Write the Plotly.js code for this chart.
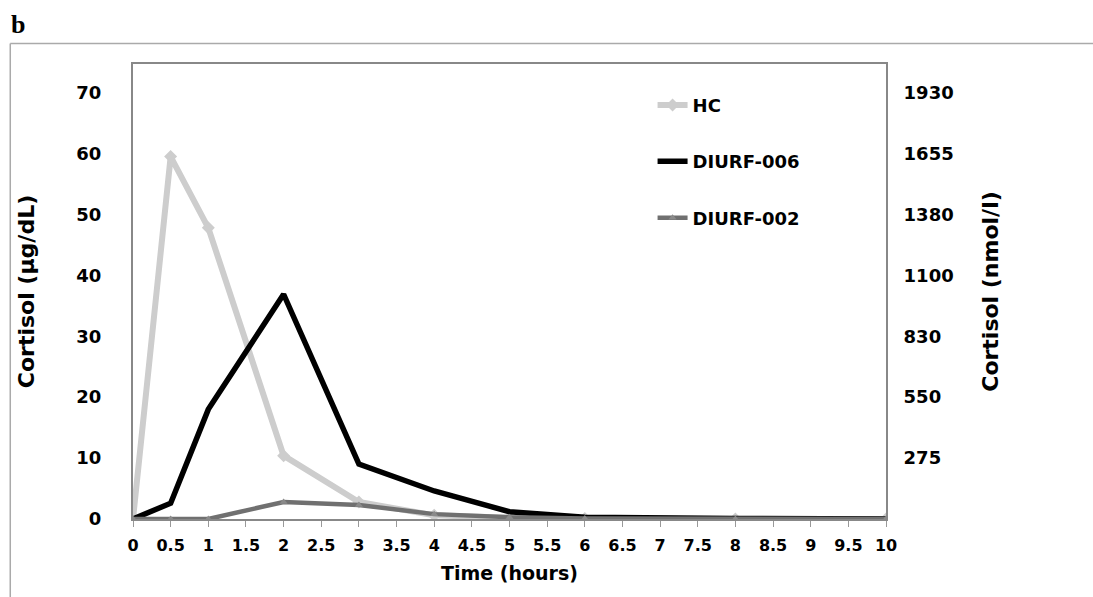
<!DOCTYPE html>
<html><head><meta charset="utf-8">
<script src="https://cdn.plot.ly/plotly-3.0.1.min.js"></script>
<style>html,body{margin:0;padding:0;background:#fff}#c{width:1093px;height:597px}</style>
</head><body><div id="c"></div>
<script>
var time = [0, 0.5, 1, 2, 3, 4, 5, 6, 8, 10];
var hc = [0, 59.5, 47.8, 10.4, 2.8, 0.6, 0.2, 0.1, 0, 0];
var diurf006 = [0, 2.6, 18, 36.9, 9.0, 4.6, 1.2, 0.3, 0.1, 0];
var diurf002 = [0, 0, 0, 2.8, 2.3, 0.8, 0.3, 0.1, 0, 0];
var leftTicks = [0, 10, 20, 30, 40, 50, 60, 70];
var rightTickVals = [10, 20, 30, 40, 50, 60, 70];
var rightTickText = ['275', '550', '830', '1100', '1380', '1655', '1930'];
var xTicks = [0,0.5,1,1.5,2,2.5,3,3.5,4,4.5,5,5.5,6,6.5,7,7.5,8,8.5,9,9.5,10];

var F = 'DejaVu Sans, Verdana, sans-serif';
var traces = [
  {x: time, y: hc, name: 'HC', legendgroup: 'a', mode: 'lines+markers', line: {color: '#cdcdcd', width: 6},
   marker: {symbol: 'diamond', size: 10, color: '#cdcdcd'}},
  {x: time, y: diurf006, name: 'DIURF-006', legendgroup: 'b', mode: 'lines', line: {color: '#000000', width: 5.5}},
  {x: time, y: diurf002, name: 'DIURF-002', legendgroup: 'c', mode: 'lines+markers', line: {color: '#707070', width: 4.5},
   marker: {symbol: 'triangle-up', size: 7, color: '#8a8a8a'}},
  {x: [0, 10], y: [null, null], yaxis: 'y2', showlegend: false, hoverinfo: 'skip', mode: 'lines'}
];
var layout = {
  width: 1093, height: 597,
  paper_bgcolor: '#ffffff', plot_bgcolor: '#ffffff',
  margin: {l: 133, r: 207, t: 64, b: 78},
  showlegend: true,
  legend: {x: 0.69, y: 0.95, xanchor: 'left', yanchor: 'top', bgcolor: 'rgba(0,0,0,0)',
    font: {family: F, size: 18, color: '#000', weight: 'bold'}, tracegroupgap: 30, itemwidth: 30},
  xaxis: {range: [0, 10], tickvals: xTicks, ticktext: xTicks.map(String), showgrid: false, zeroline: false,
    showline: true, linecolor: '#888', linewidth: 2, mirror: true,
    ticks: 'outside', ticklen: 6, tickcolor: '#999', tickwidth: 1, ticklabelstandoff: 5,
    tickfont: {family: F, size: 16, color: '#000', weight: 'bold'},
    title: {text: 'Time (hours)', font: {family: F, size: 19, color: '#000', weight: 'bold'}, standoff: 12}},
  yaxis: {range: [0, 74.7], tickvals: leftTicks, showgrid: false, zeroline: false,
    showline: true, linecolor: '#888', linewidth: 2, ticks: '', ticklabelstandoff: 26,
    tickfont: {family: F, size: 18, color: '#000', weight: 'bold'},
    title: {text: 'Cortisol (µg/dL)', font: {family: F, size: 22, color: '#000', weight: 'bold'}, standoff: 36}},
  yaxis2: {overlaying: 'y', side: 'right', range: [0, 74.7], tickvals: rightTickVals, ticktext: rightTickText,
    showgrid: false, zeroline: false, showline: true, linecolor: '#888', linewidth: 2, ticks: '',
    ticklabelstandoff: 12,
    tickfont: {family: F, size: 18, color: '#000', weight: 'bold'},
    title: {text: 'Cortisol (nmol/l)', font: {family: F, size: 22, color: '#000', weight: 'bold'}, standoff: 30}},
  shapes: [
    {type: 'line', xref: 'paper', yref: 'paper', x0: -0.163, x1: 1.28, y0: 1.045, y1: 1.045, line: {color: '#aaa', width: 1.5}},
    {type: 'line', xref: 'paper', yref: 'paper', x0: -0.163, x1: -0.163, y0: 1.045, y1: -0.2, line: {color: '#aaa', width: 1.5}}
  ],
  annotations: [
    {text: '<b>b</b>', xref: 'paper', yref: 'paper', x: -0.165, y: 1.086, xanchor: 'left', yanchor: 'middle',
     showarrow: false, font: {family: 'Liberation Serif, serif', size: 26, color: '#000'}}
  ]
};
Plotly.newPlot('c', traces, layout, {displayModeBar: false, staticPlot: true});
</script></body></html>
